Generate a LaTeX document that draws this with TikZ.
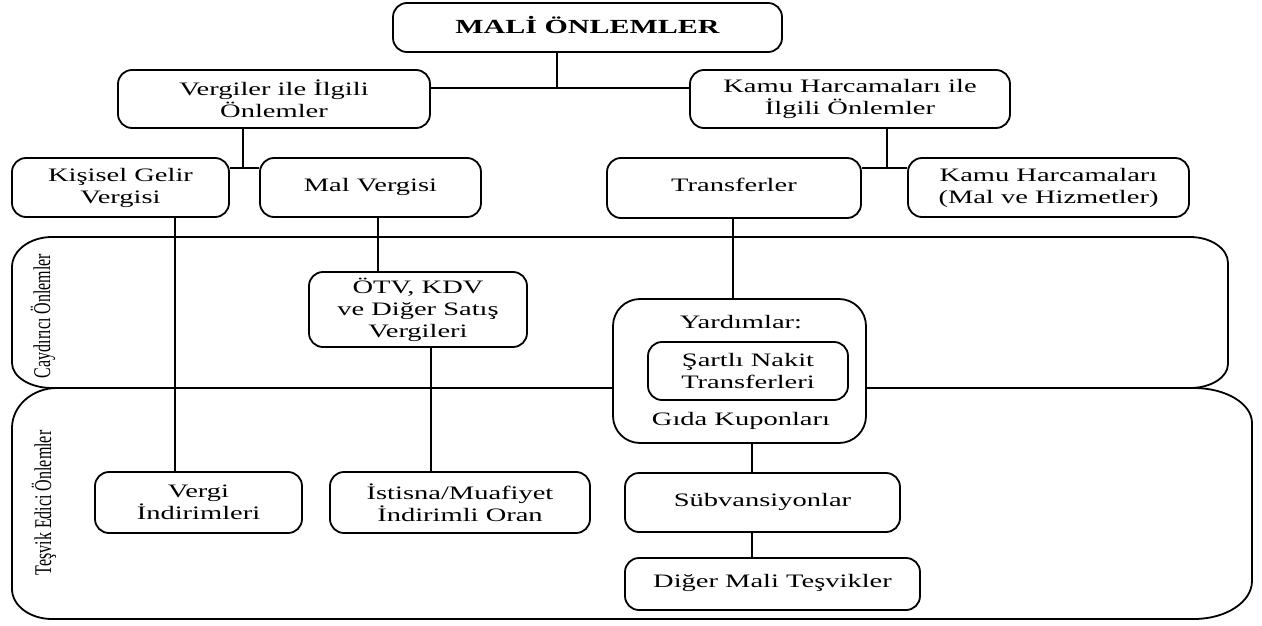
\documentclass[tikz,border=0pt]{standalone}
\usepackage{fontspec}
\setmainfont{Liberation Serif}[FakeStretch=1.5]
\newfontfamily\sidefont{Liberation Serif}[FakeStretch=0.667]
\begin{document}
\begin{tikzpicture}[x=1pt,y=-1pt,
  box/.style={draw, line width=1.8pt, rounded corners=14pt, fill=white, align=center, inner sep=0pt, font=\fontsize{19}{22}\selectfont},
  txt/.style={inner sep=0pt, align=center, font=\fontsize{19}{22}\selectfont},
  conn/.style={draw, line width=1.3pt},
  band/.style={draw, line width=1.8pt},
  side/.style={rotate=90, inner sep=0pt, font=\sidefont\fontsize{24}{26}\selectfont}]
\useasboundingbox (0,0) rectangle (1262,626);
\fill[white] (0,0) rectangle (1262,626);

% bands
\draw[band] (52,237) -- (1190,237) .. controls (1211,237) and (1228,248.6) .. (1228,263)
  -- (1228,364) .. controls (1228,377.2) and (1211,388) .. (1190,388)
  -- (52,388) .. controls (30,388) and (12,376.8) .. (12,363)
  -- (12,267) .. controls (12,250.4) and (30,237) .. (52,237) -- cycle;
\draw[band] (57,388) -- (1194,388) .. controls (1226,388) and (1252,403.7) .. (1252,423)
  -- (1252,581) .. controls (1252,602) and (1226,619) .. (1194,619)
  -- (52,619) .. controls (30,619) and (12,605.6) .. (12,589)
  -- (12,428) .. controls (12,406) and (32.2,388) .. (57,388) -- cycle;
\node[side] (caydirici) at (43,316) {Caydırıcı Önlemler};
\node[side] (tesvikedici) at (44,503) {Teşvik Edici Önlemler};

% boxes
\node[box, minimum width=389pt, minimum height=49pt] (mali) at (587.5,27.5)
  {\raisebox{5pt}{\fontsize{20}{24}\selectfont\bfseries MALİ ÖNLEMLER}};
\node[box, minimum width=312pt, minimum height=58pt] (verg) at (274,99) {Vergiler ile İlgili\\Önlemler};
\node[box, minimum width=320pt, minimum height=58pt] (kamu) at (850,99) {Kamu Harcamaları ile\\İlgili Önlemler};
\node[box, minimum width=217pt, minimum height=59pt] (kis) at (120.5,187.5) {Kişisel Gelir\\Vergisi};
\node[box, minimum width=221pt, minimum height=59pt] (mal) at (370.5,187.5) {\raisebox{4.5pt}{Mal Vergisi}};
\node[box, minimum width=254pt, minimum height=60pt] (trans) at (734,188) {\raisebox{6pt}{Transferler}};
\node[box, minimum width=281pt, minimum height=59pt] (kmh) at (1048.5,187.5) {Kamu Harcamaları\\(Mal ve Hizmetler)};
\node[box, minimum width=218pt, minimum height=75pt] (otv) at (418,309.5) {ÖTV, KDV\\ve Diğer Satış\\Vergileri};
\node[box, rounded corners=27pt, minimum width=253pt, minimum height=144pt] (yard) at (739.5,371) {};
\node[txt] (yardT) at (741,322) {Yardımlar:};
\node[box, minimum width=200pt, minimum height=58pt] (sart) at (748,371) {Şartlı Nakit\\Transferleri};
\node[txt] (gida) at (741,421) {Gıda Kuponları};
\node[box, minimum width=207pt, minimum height=61pt] (vind) at (198.5,502.5) {Vergi\\İndirimleri};
\node[box, minimum width=260pt, minimum height=61pt] (ist) at (460,502.5) {İstisna/Muafiyet\\İndirimli Oran};
\node[box, minimum width=275pt, minimum height=59pt] (sub) at (762.5,502.5) {\raisebox{5.5pt}{Sübvansiyonlar}};
\node[box, minimum width=295pt, minimum height=52pt] (dig) at (772.5,584) {\raisebox{7pt}{Diğer Mali Teşvikler}};

% connectors
\coordinate (j1) at (557,88);
\draw[conn] (mali.south -| j1) -- (j1);
\draw[conn] (verg.east |- j1) -- (kamu.west |- j1);
\coordinate (j2) at (243,168);
\draw[conn] (verg.south -| j2) -- (j2);
\draw[conn] (kis.east |- j2) -- (mal.west |- j2);
\coordinate (j3) at (887,168);
\draw[conn] (kamu.south -| j3) -- (j3);
\draw[conn] (trans.east |- j3) -- (kmh.west |- j3);
\coordinate (c1) at (175,0);
\draw[conn] (kis.south -| c1) -- (vind.north -| c1);
\coordinate (c2) at (378,0);
\draw[conn] (mal.south -| c2) -- (otv.north -| c2);
\coordinate (c3) at (431,0);
\draw[conn] (otv.south -| c3) -- (ist.north -| c3);
\coordinate (c4) at (733,0);
\draw[conn] (trans.south -| c4) -- (yard.north -| c4);
\coordinate (c5) at (752,0);
\draw[conn] (yard.south -| c5) -- (sub.north -| c5);
\draw[conn] (sub.south -| c5) -- (dig.north -| c5);
\end{tikzpicture}
\end{document}
